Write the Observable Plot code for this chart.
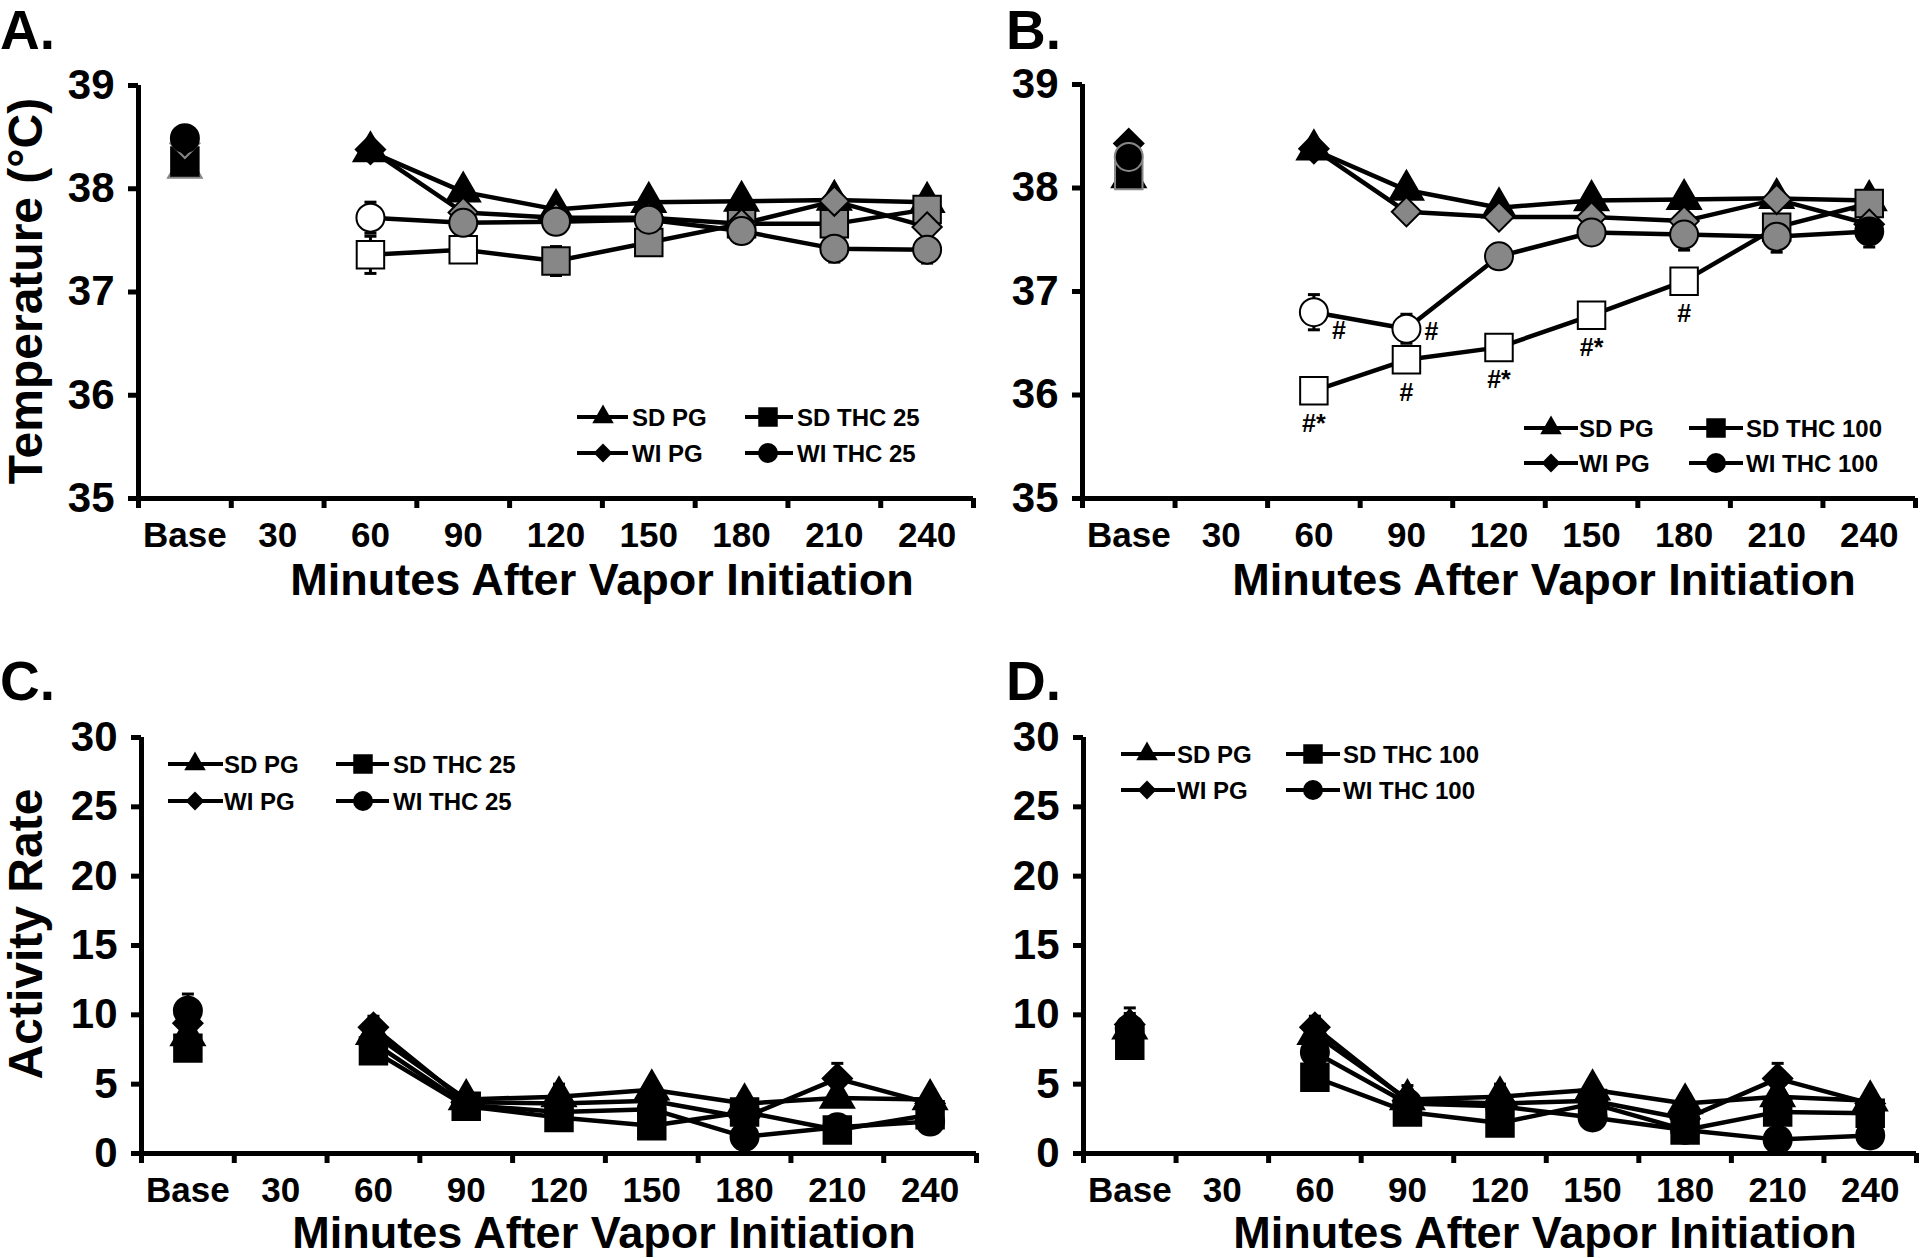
<!DOCTYPE html>
<html>
<head>
<meta charset="utf-8">
<script src="https://cdn.jsdelivr.net/npm/d3@7"></script>
<script src="https://cdn.jsdelivr.net/npm/@observablehq/plot@0.6"></script>
<style>
html,body{margin:0;padding:0;background:#fff;}
#page{position:relative;width:1920px;height:1258px;overflow:hidden;background:#fff;}
#page svg{position:absolute;left:0;top:0;overflow:visible;}
</style>
</head>
<body>
<div id="page"></div>
<script>
// ---------- categories ----------
const times = ["Base", "30", "60", "90", "120", "150", "180", "210", "240"];
const tempTicks = [35, 36, 37, 38, 39];
const actTicks = [0, 5, 10, 15, 20, 25, 30];

// point status codes: k = black, kg = black with grey outline, g = grey fill, w = open (white)
// ---------- Panel A: body temperature, THC 25 ----------
const tempA_sdPG  = [38.20, null, 38.36, 37.97, 37.80, 37.87, 37.88, 37.89, 37.87];
const tempA_wiPG  = [38.44, null, 38.38, 37.77, 37.72, 37.72, 37.66, 37.88, 37.63];
const tempA_sdTHC = [38.27, null, 37.36, 37.41, 37.30, 37.48, 37.66, 37.66, 37.80];
const tempA_wiTHC = [38.49, null, 37.72, 37.67, 37.68, 37.70, 37.59, 37.42, 37.41];
const semA_sdPG   = [0.05, null, 0.05, 0.06, 0.06, 0.05, 0.06, 0.05, 0.05];
const semA_wiPG   = [0.05, null, 0.05, 0.06, 0.06, 0.05, 0.06, 0.05, 0.06];
const semA_sdTHC  = [0.06, null, 0.18, 0.10, 0.14, 0.10, 0.10, 0.10, 0.08];
const semA_wiTHC  = [0.06, null, 0.15, 0.08, 0.10, 0.08, 0.12, 0.13, 0.13];
const statA_sdPG  = ["kg", null, "k", "k", "k", "k", "k", "k", "k"];
const statA_wiPG  = ["kg", null, "k", "g", "g", "g", "g", "g", "g"];
const statA_sdTHC = ["k",  null, "w", "w", "g", "g", "g", "g", "g"];
const statA_wiTHC = ["k",  null, "w", "g", "g", "g", "g", "g", "g"];

// ---------- Panel B: body temperature, THC 100 ----------
const tempB_sdPG  = [38.10, null, 38.37, 37.98, 37.81, 37.88, 37.89, 37.90, 37.88];
const tempB_wiPG  = [38.43, null, 38.38, 37.77, 37.72, 37.72, 37.68, 37.89, 37.65];
const tempB_sdTHC = [38.12, null, 36.04, 36.34, 36.46, 36.77, 37.10, 37.62, 37.85];
const tempB_wiTHC = [38.30, null, 36.80, 36.64, 37.34, 37.57, 37.55, 37.53, 37.58];
const semB_sdPG   = [0.05, null, 0.05, 0.06, 0.06, 0.05, 0.06, 0.05, 0.05];
const semB_wiPG   = [0.05, null, 0.05, 0.06, 0.06, 0.05, 0.06, 0.05, 0.06];
const semB_sdTHC  = [0.06, null, 0.08, 0.10, 0.10, 0.08, 0.09, 0.10, 0.08];
const semB_wiTHC  = [0.06, null, 0.17, 0.14, 0.10, 0.10, 0.15, 0.15, 0.15];
const statB_sdPG  = ["k",  null, "k", "k", "k", "k", "k", "k", "k"];
const statB_wiPG  = ["k",  null, "k", "g", "g", "g", "g", "g", "g"];
const statB_sdTHC = ["kg", null, "w", "w", "w", "w", "w", "g", "g"];
const statB_wiTHC = ["kg", null, "w", "w", "g", "g", "g", "g", "k"];
// significance annotations (panel B)
const annoB_series = ["WI THC", "WI THC", "SD THC", "SD THC", "SD THC", "SD THC", "SD THC"];
const annoB_time   = ["60", "90", "60", "90", "120", "150", "180"];
const annoB_text   = ["#", "#", "#*", "#", "#*", "#*", "#"];
const annoB_place  = ["right-low", "right", "below", "below", "below", "below", "below"];

// ---------- Panel C: activity, THC 25 ----------
const actC_sdPG  = [8.5,  null, 8.6, 3.9, 4.1, 4.6, 3.6, 4.0, 3.9];
const actC_wiPG  = [9.4,  null, 9.1, 3.7, 3.6, 3.8, 2.6, 5.4, 3.6];
const actC_sdTHC = [7.6,  null, 7.4, 3.4, 2.6, 2.0, 3.0, 1.7, 2.8];
const actC_wiTHC = [10.3, null, 8.0, 3.5, 3.0, 3.2, 1.2, 1.9, 2.3];
const semC_sdPG  = [0.9, null, 0.9, 0.6, 0.9, 0.6, 0.7, 0.6, 0.7];
const semC_wiPG  = [1.0, null, 0.8, 0.6, 0.7, 0.6, 0.6, 1.1, 0.6];
const semC_sdTHC = [0.8, null, 0.7, 0.6, 0.6, 0.5, 0.6, 0.5, 0.6];
const semC_wiTHC = [1.2, null, 0.8, 0.6, 0.6, 0.6, 0.4, 0.5, 0.6];

// ---------- Panel D: activity, THC 100 ----------
const actD_sdPG  = [9.0, null, 8.6, 3.9, 4.1, 4.6, 3.6, 4.1, 3.8];
const actD_wiPG  = [9.3, null, 9.1, 3.8, 3.6, 3.8, 2.5, 5.4, 3.6];
const actD_sdTHC = [7.8, null, 5.5, 3.0, 2.2, 3.6, 1.7, 3.0, 2.9];
const actD_wiTHC = [9.0, null, 7.3, 3.6, 3.4, 2.6, 1.7, 1.0, 1.3];
const semD_sdPG  = [1.1, null, 0.9, 1.0, 0.9, 0.6, 0.7, 0.6, 0.7];
const semD_wiPG  = [1.2, null, 0.8, 0.6, 0.7, 0.6, 0.6, 1.1, 0.6];
const semD_sdTHC = [0.8, null, 0.6, 0.5, 0.5, 0.5, 0.5, 0.5, 0.5];
const semD_wiTHC = [0.9, null, 0.7, 0.5, 0.6, 0.8, 0.4, 0.4, 0.4];

// ---------- legend names ----------
const legendA = ["SD PG", "SD THC 25", "WI PG", "WI THC 25"];
const legendB = ["SD PG", "SD THC 100", "WI PG", "WI THC 100"];

// ---------- styles ----------
const FONT = "'Liberation Sans', Arial, Helvetica, sans-serif";
const GREY = "#878787";
const fillOf = c => c === "g" ? GREY : c === "w" ? "white" : "black";
const strokeOf = c => c === "kg" ? GREY : "black";
const SYM = {"SD PG": "triangle", "SD THC": "square", "WI PG": "diamond2", "WI THC": "circle"};
const SYM_R = {"SD PG": 12.5, "SD THC": 15.5, "WI PG": 13.2, "WI THC": 14};
const D3SYM = {"SD PG": d3.symbolTriangle, "SD THC": d3.symbolSquare, "WI PG": d3.symbolDiamond2, "WI THC": d3.symbolCircle};
const LEG_R = {"SD PG": 8, "SD THC": 11, "WI PG": 8.5, "WI THC": 10};
const capSymbol = {draw(ctx) { ctx.moveTo(-6, 0); ctx.lineTo(6, 0); }};

function seriesSet(sdPG, wiPG, sdTHC, wiTHC, semSdPG, semWiPG, semSdTHC, semWiTHC, stSdPG, stWiPG, stSdTHC, stWiTHC) {
  // drawing order: triangle, square, diamond, circle
  return [
    {name: "SD PG", v: sdPG, sem: semSdPG, st: stSdPG},
    {name: "SD THC", v: sdTHC, sem: semSdTHC, st: stSdTHC},
    {name: "WI PG", v: wiPG, sem: semWiPG, st: stWiPG},
    {name: "WI THC", v: wiTHC, sem: semWiTHC, st: stWiTHC}
  ];
}

const panels = [
  {id: "A", letter: "A.", letterPos: [0, 49], frame: {x0: 138, x1: 973, y0: 85, y1: 498},
   yDomain: [35, 39], yTicks: tempTicks,
   series: seriesSet(tempA_sdPG, tempA_wiPG, tempA_sdTHC, tempA_wiTHC, semA_sdPG, semA_wiPG, semA_sdTHC, semA_wiTHC, statA_sdPG, statA_wiPG, statA_sdTHC, statA_wiTHC),
   ytitle: "Temperature (°C)", ytitlePos: [27, 291],
   xtitlePos: [602, 595],
   legend: legendA, legCols: [[577, 628, 603, 632], [745, 793, 768, 797]], legRows: [417, 453]},
  {id: "B", letter: "B.", letterPos: [1006, 49], frame: {x0: 1082, x1: 1915, y0: 84, y1: 498},
   yDomain: [35, 39], yTicks: tempTicks,
   series: seriesSet(tempB_sdPG, tempB_wiPG, tempB_sdTHC, tempB_wiTHC, semB_sdPG, semB_wiPG, semB_sdTHC, semB_wiTHC, statB_sdPG, statB_wiPG, statB_sdTHC, statB_wiTHC),
   ytitle: null, xtitlePos: [1544, 595],
   legend: legendB, legCols: [[1524, 1578, 1551, 1579], [1689, 1743, 1716, 1746]], legRows: [428, 463],
   annos: annoB_text.map((t, i) => ({series: annoB_series[i], time: annoB_time[i], text: t, place: annoB_place[i]}))},
  {id: "C", letter: "C.", letterPos: [0, 700], frame: {x0: 141, x1: 976, y0: 737, y1: 1153},
   yDomain: [0, 30], yTicks: actTicks,
   series: seriesSet(actC_sdPG, actC_wiPG, actC_sdTHC, actC_wiTHC, semC_sdPG, semC_wiPG, semC_sdTHC, semC_wiTHC),
   ytitle: "Activity Rate", ytitlePos: [27, 934],
   xtitlePos: [604, 1248],
   legend: legendA, legCols: [[168, 223, 195, 224], [336, 389, 363, 393]], legRows: [764, 801]},
  {id: "D", letter: "D.", letterPos: [1006, 700], frame: {x0: 1083, x1: 1916, y0: 737, y1: 1153},
   yDomain: [0, 30], yTicks: actTicks,
   series: seriesSet(actD_sdPG, actD_wiPG, actD_sdTHC, actD_wiTHC, semD_sdPG, semD_wiPG, semD_sdTHC, semD_wiTHC),
   ytitle: null, xtitlePos: [1545, 1248],
   legend: legendB, legCols: [[1121, 1175, 1147, 1177], [1286, 1340, 1313, 1343]], legRows: [754, 790]}
];

const W = 1920, H = 1258;
const page = document.getElementById("page");

for (const p of panels) {
  const {x0, x1, y0, y1} = p.frame;
  const rows = [];
  for (const s of p.series) {
    s.v.forEach((v, i) => {
      const code = s.st ? s.st[i] : "k";
      rows.push({series: s.name, x: i + 0.5, y: v == null ? NaN : v,
        lo: v == null ? NaN : v - s.sem[i], hi: v == null ? NaN : v + s.sem[i],
        fill: fillOf(code), stroke: strokeOf(code)});
    });
  }
  const pts = rows.filter(r => Number.isFinite(r.y));
  const marks = [];
  // error bars
  marks.push(Plot.ruleX(pts, {x: "x", y1: "lo", y2: "hi", stroke: "black", strokeWidth: 3}));
  marks.push(Plot.dot(pts, {x: "x", y: "hi", symbol: capSymbol, fill: "none", stroke: "black", strokeWidth: 3}));
  marks.push(Plot.dot(pts, {x: "x", y: "lo", symbol: capSymbol, fill: "none", stroke: "black", strokeWidth: 3}));
  // lines
  for (const s of p.series) {
    marks.push(Plot.line(rows.filter(r => r.series === s.name), {x: "x", y: "y", stroke: "black", strokeWidth: 4.5}));
  }
  // markers
  for (const s of p.series) {
    marks.push(Plot.dot(pts.filter(r => r.series === s.name), {
      x: "x", y: "y", symbol: SYM[s.name], r: SYM_R[s.name], fill: d => d.fill, stroke: d => d.stroke, strokeWidth: 2
    }));
  }
  // annotations
  if (p.annos) {
    const placeOff = {"right-low": [25, 19], "right": [25, 3], "below": [0, 33]};
    for (const place of Object.keys(placeOff)) {
      const a = p.annos.filter(d => d.place === place).map(d => {
        const s = p.series.find(s => s.name === d.series);
        const i = times.indexOf(d.time);
        return {x: i + 0.5, y: s.v[i], text: d.text};
      });
      if (a.length) marks.push(Plot.text(a, {x: "x", y: "y", text: "text", dx: placeOff[place][0], dy: placeOff[place][1],
        fontSize: 25, fontWeight: "bold", fill: "black"}));
    }
  }
  // axes
  marks.push(Plot.axisY(p.yTicks, {tickSize: 10, tickPadding: 14, tickFormat: d => String(d), fontSize: 42, fontWeight: "bold",
    stroke: "black", strokeWidth: 5, label: null}));
  marks.push(Plot.axisX(d3.range(10), {tickSize: 10, tickFormat: () => "", stroke: "black", strokeWidth: 5, label: null}));
  marks.push(Plot.axisX(d3.range(9).map(i => i + 0.5), {tickSize: 0, tickPadding: 24, tickFormat: d => times[Math.floor(d)],
    fontSize: 35, fontWeight: "bold", label: null}));
  marks.push(Plot.ruleX([0], {stroke: "black", strokeWidth: 5}));
  marks.push(Plot.ruleY([p.yDomain[0]], {stroke: "black", strokeWidth: 5}));

  const svg = Plot.plot({
    width: W, height: H,
    marginLeft: x0, marginRight: W - x1, marginTop: y0, marginBottom: H - y1,
    x: {domain: [0, 9]},
    y: {domain: p.yDomain},
    style: {fontFamily: FONT, fontWeight: "bold", background: "transparent", overflow: "visible", maxWidth: "none", color: "black"},
    marks
  });
  page.appendChild(svg);

  const sel = d3.select(svg);
  const deco = sel.append("g").attr("font-family", FONT).attr("font-weight", "bold").attr("fill", "black");
  // panel letter
  deco.append("text").attr("x", p.letterPos[0]).attr("y", p.letterPos[1]).attr("font-size", 55)
    .attr("text-anchor", "start").text(p.letter);
  // x title
  deco.append("text").attr("x", p.xtitlePos[0]).attr("y", p.xtitlePos[1]).attr("font-size", 45)
    .attr("text-anchor", "middle").text("Minutes After Vapor Initiation");
  // y title
  if (p.ytitle) {
    deco.append("text").attr("transform", `translate(${p.ytitlePos[0]},${p.ytitlePos[1]}) rotate(-90)`)
      .attr("font-size", 48).attr("text-anchor", "middle").attr("dy", "0.32em").text(p.ytitle);
  }
  // legend
  const order = [["SD PG", 0, 0], ["SD THC", 1, 0], ["WI PG", 0, 1], ["WI THC", 1, 1]];
  order.forEach(([name, c, r], k) => {
    const [lx0, lx1, mx, tx] = p.legCols[c];
    const y = p.legRows[r];
    deco.append("line").attr("x1", lx0).attr("x2", lx1).attr("y1", y).attr("y2", y)
      .attr("stroke", "black").attr("stroke-width", 4);
    const rr = LEG_R[name];
    deco.append("path").attr("transform", `translate(${mx},${y})`)
      .attr("d", d3.symbol(D3SYM[name], Math.PI * rr * rr)()).attr("fill", "black");
    deco.append("text").attr("x", tx).attr("y", y).attr("dy", "0.36em").attr("font-size", 24)
      .attr("text-anchor", "start").text(p.legend[k]);
  });
}
</script>
</body>
</html>
